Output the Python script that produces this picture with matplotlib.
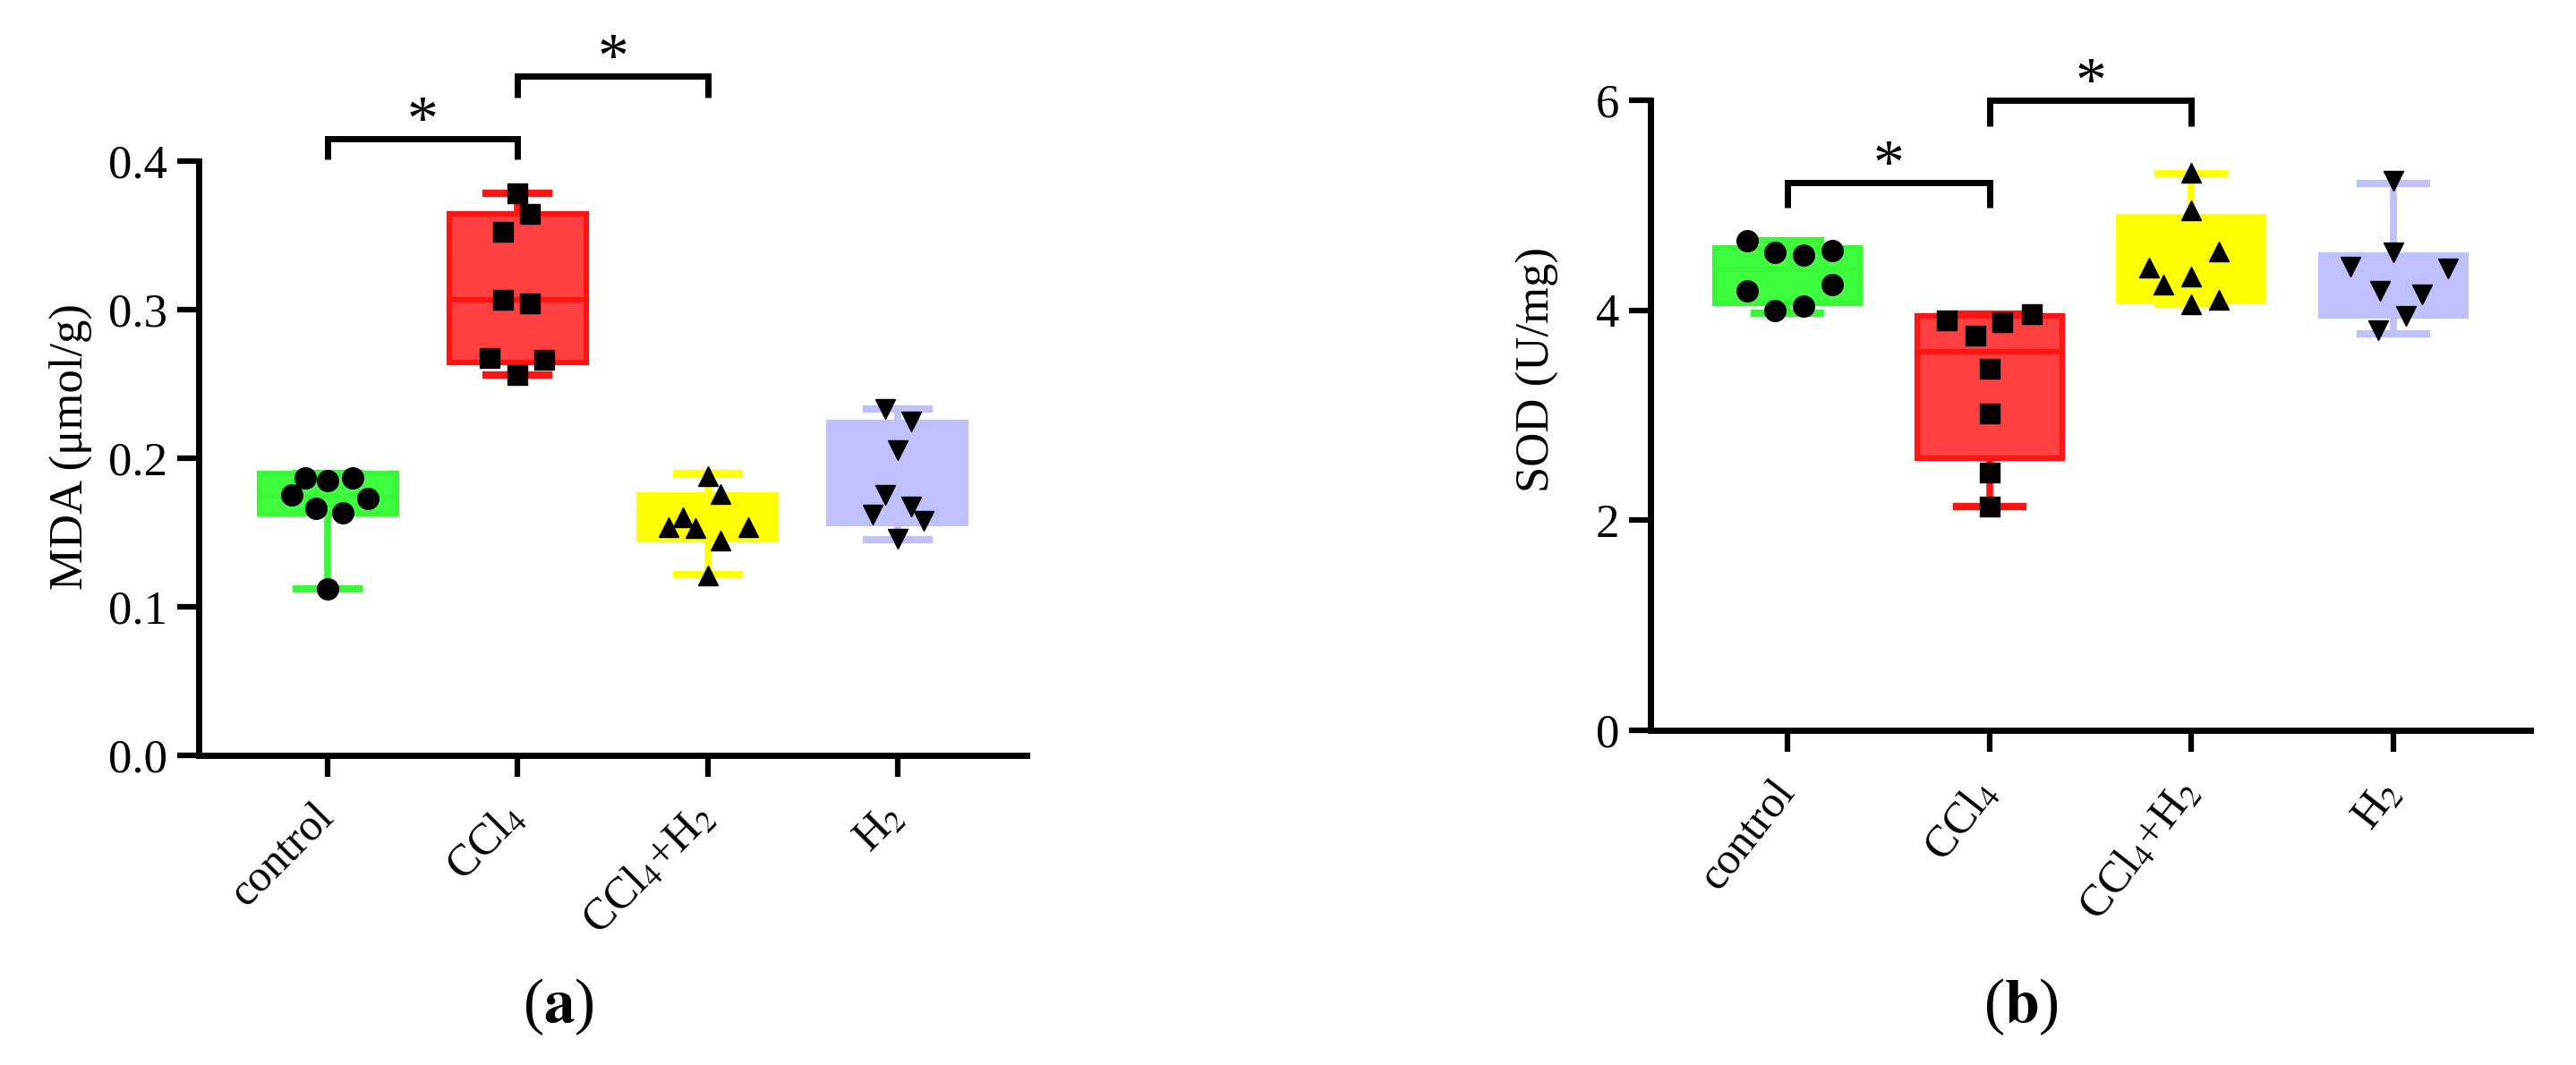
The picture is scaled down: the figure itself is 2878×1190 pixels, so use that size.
import matplotlib
matplotlib.use("Agg")
import matplotlib.pyplot as plt
import numpy as np

plt.rcParams['font.family'] = ['Liberation Serif', 'DejaVu Serif']
plt.rcParams['mathtext.fontset'] = 'stix'

groups = ['control', r'CCl$_4$', r'CCl$_4$+H$_2$', r'H$_2$']
face_colors = ['#40ff40', '#ff4040', '#ffff00', '#c0c0ff']
edge_colors = ['#38f838', '#ff1414', '#ffff00', '#c0c0ff']
markers = ['o', 's', '^', 'v']
marker_sizes = [17, 15.5, 16, 16]

# ---- panel (a): MDA (umol/g), single animals
mda_points = [
    [0.187, 0.185, 0.187, 0.175, 0.173, 0.166, 0.1635, 0.112],
    [0.3786, 0.3647, 0.3526, 0.3067, 0.3042, 0.2672, 0.2662, 0.2558],
    [0.1877, 0.176, 0.160, 0.1539, 0.153, 0.1539, 0.1444, 0.1211],
    [0.2331, 0.2247, 0.2057, 0.1751, 0.1623, 0.1676, 0.1581, 0.1455],
]
# horizontal scatter of the dots (in group widths)
mda_dx = [
    [-0.12, 0.0, 0.13, -0.19, 0.21, -0.06, 0.08, 0.0],
    [0.0, 0.065, -0.076, -0.076, 0.065, -0.147, 0.141, 0.0],
    [0.0, 0.07, -0.13, -0.205, -0.064, 0.212, 0.07, 0.0],
    [-0.066, 0.07, 0.0, -0.066, -0.133, 0.07, 0.137, 0.0],
]
# box plot: min, Q1, median, Q3, max
mda_min = [0.112, 0.2558, 0.1217, 0.1452]
mda_q1 = [0.1625, 0.2645, 0.1452, 0.156]
mda_med = [0.174, 0.3067, 0.1538, 0.171]
mda_q3 = [0.1895, 0.3647, 0.1753, 0.2242]
mda_max = [0.1895, 0.3786, 0.1895, 0.2331]
mda_pairs = [(0, 1), (1, 2)]
mda_bracket_y = [0.415, 0.457]
mda_leg = 0.014

# ---- panel (b): SOD (U/mg)
sod_points = [
    [4.66, 4.552, 4.526, 4.571, 4.19, 4.248, 4.0, 4.038],
    [3.905, 3.76, 3.886, 3.962, 3.44, 3.02, 2.45, 2.133],
    [5.31, 4.95, 4.56, 4.41, 4.25, 4.326, 4.06, 4.097],
    [5.24, 4.555, 4.42, 4.40, 4.19, 4.155, 3.946, 3.81],
]
sod_dx = [
    [-0.2, -0.065, 0.08, 0.22, -0.2, 0.22, -0.065, 0.08],
    [-0.21, -0.07, 0.065, 0.21, 0.0, 0.0, 0.0, 0.0],
    [0.0, 0.0, 0.137, -0.21, -0.137, 0.0, 0.0, 0.137],
    [0.0, 0.0, -0.21, 0.27, -0.065, 0.144, 0.065, -0.072],
]
sod_min = [3.97, 2.133, 4.06, 3.78]
sod_q1 = [4.065, 2.59, 4.095, 3.946]
sod_med = [4.39, 3.608, 4.33, 4.3]
sod_q3 = [4.598, 3.943, 4.895, 4.524]
sod_max = [4.66, 3.962, 5.307, 5.21]
sod_pairs = [(0, 1), (1, 2)]
sod_bracket_y = [5.22, 6.0]
sod_leg = 0.24


def panel(ax, points, dx, lo, q1, med, q3, hi, pairs, br_y, leg, ylim, yticks, yticklabels, ylabel, rot):
    stats = []
    for i in range(len(groups)):
        stats.append(dict(whislo=lo[i], q1=q1[i], med=med[i], q3=q3[i], whishi=hi[i], fliers=[]))
    pos = np.arange(len(groups))
    bp = ax.bxp(stats, positions=pos, widths=0.72, capwidths=0.33, patch_artist=True,
                showfliers=False)
    for i in range(len(groups)):
        bp['boxes'][i].set(facecolor=face_colors[i], edgecolor=edge_colors[i], linewidth=4.5, zorder=2)
        bp['medians'][i].set(color=edge_colors[i], linewidth=4.5, zorder=3)
        for w in bp['whiskers'][2 * i:2 * i + 2]:
            w.set(color=edge_colors[i], linewidth=5.5, zorder=1)
        for c in bp['caps'][2 * i:2 * i + 2]:
            c.set(color=edge_colors[i], linewidth=6, zorder=1)
        ax.plot(pos[i] + np.array(dx[i]), points[i], linestyle='none', marker=markers[i],
                markersize=marker_sizes[i], color='black', zorder=5)

    # significance brackets
    for (a, b), y in zip(pairs, br_y):
        ax.plot([a, a, b, b], [y - leg, y, y, y - leg], color='black', linewidth=5,
                clip_on=False, solid_capstyle='butt', solid_joinstyle='miter')
        ax.text((a + b) / 2, y, '*', ha='center', va='baseline', fontsize=50, clip_on=False)

    ax.set_xlim(-0.68, 3.68)
    ax.set_ylim(*ylim)
    ax.set_yticks(yticks)
    ax.set_yticklabels(yticklabels)
    ax.set_xticks(pos)
    ax.set_xticklabels(groups, rotation=rot, ha='right', va='center', rotation_mode='anchor')
    ax.spines['top'].set_visible(False)
    ax.spines['right'].set_visible(False)
    ax.spines['left'].set_linewidth(5)
    ax.spines['bottom'].set_linewidth(5)
    ax.tick_params(axis='both', direction='out', length=17, width=4.5, labelsize=38, color='black')
    ax.tick_params(axis='y', pad=8)
    ax.tick_params(axis='x', pad=28, labelsize=36)
    ax.set_ylabel(ylabel, fontsize=38)


fig = plt.figure(figsize=(28.78, 11.9), dpi=100)
ax1 = fig.add_axes([0.0771, 0.2908, 0.3215, 0.5579])
ax2 = fig.add_axes([0.6407, 0.3147, 0.3416, 0.5908])

panel(ax1, mda_points, mda_dx, mda_min, mda_q1, mda_med, mda_q3, mda_max,
      mda_pairs, mda_bracket_y, mda_leg, (0, 0.4),
      [0.0, 0.1, 0.2, 0.3, 0.4], ['0.0', '0.1', '0.2', '0.3', '0.4'], 'MDA (μmol/g)', 45)
ax1.yaxis.set_label_coords(-0.128, 0.52)

panel(ax2, sod_points, sod_dx, sod_min, sod_q1, sod_med, sod_q3, sod_max,
      sod_pairs, sod_bracket_y, sod_leg, (0, 6),
      [0, 2, 4, 6], ['0', '2', '4', '6'], 'SOD (U/mg)', 52)
ax2.yaxis.set_label_coords(-0.104, 0.572)

fig.text(624 / 2878, 1 - 1125 / 1190, r'($\mathbf{a}$)', ha='center', va='center', fontsize=50)
fig.text(2258 / 2878, 1 - 1125 / 1190, r'($\mathbf{b}$)', ha='center', va='center', fontsize=50)

fig.savefig('out.png', dpi=100)
plt.close()
